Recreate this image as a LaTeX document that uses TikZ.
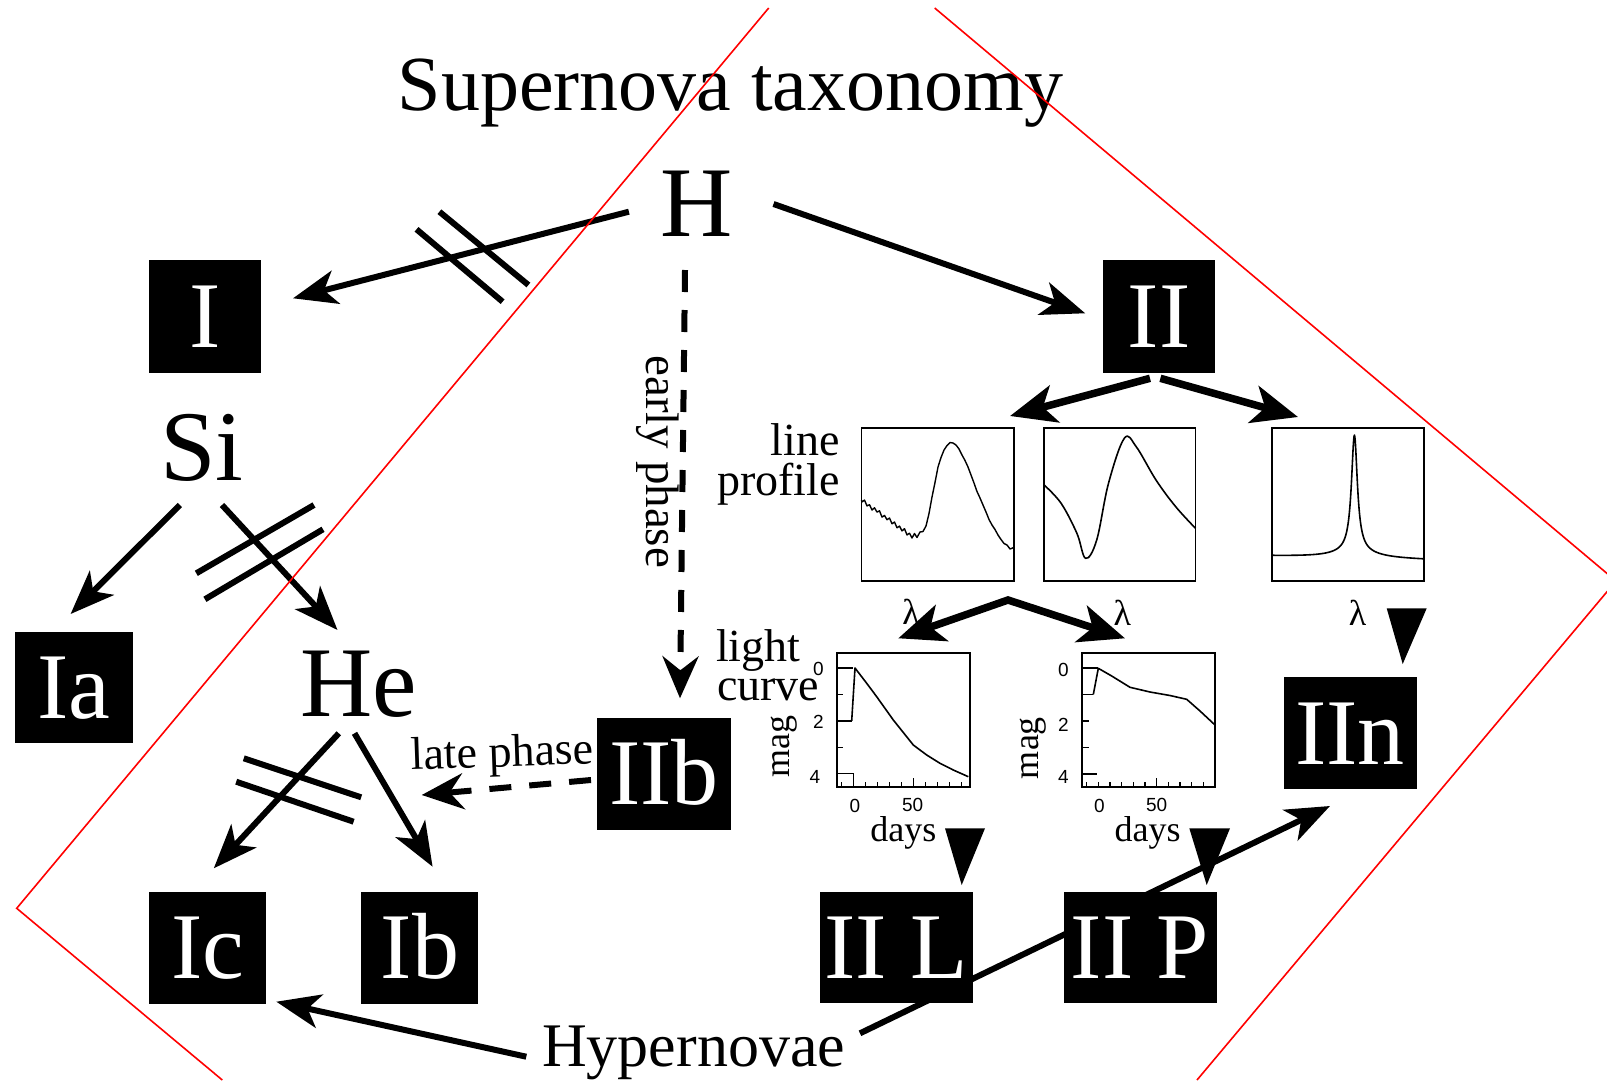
\documentclass[tikz,border=0pt]{standalone}
\usepackage{fontspec}
\setmainfont{Liberation Serif}
\newfontfamily\ticksans{Liberation Sans}
\usetikzlibrary{arrows.meta}
\newcommand\fsz[1]{\fontsize{#1}{#1}\selectfont}
\begin{document}
\begin{tikzpicture}[x=1pt,y=-1pt,
  sbox/.style={fill=black,text=white,inner sep=0pt,minimum height=112pt,font=\fsz{94},text height=62pt,text depth=0pt},
  tx/.style={inner sep=0pt,anchor=base},
  arr/.style={line width=6pt,-{Stealth[length=44pt,width=34pt,inset=12pt]}},
  arrb/.style={line width=7.5pt,-{Stealth[length=46pt,width=38pt,inset=12pt]}},
  darr/.style={line width=6pt,dash pattern=on 22pt off 18pt,-{Stealth[length=42pt,width=36pt,inset=14pt]}},
  slashln/.style={line width=6pt},
  plotframe/.style={draw,line width=1.8pt,inner sep=0pt},
  crv/.style={line width=1.6pt,line join=round},
  tk/.style={line width=1.4pt},
  redln/.style={draw=red,line width=1.6pt},
  ticklab/.style={font=\ticksans\fsz{19},inner sep=0pt}
]
\path[use as bounding box] (0,0) rectangle (1607,1080);
\clip (0,0) rectangle (1607,1080);

% connector end points
\coordinate (HtoIs) at (628.9,211.7);   \coordinate (HtoIe) at (293,298.3);
\coordinate (HtoIIs) at (773.5,204);    \coordinate (HtoIIe) at (1085.2,313.3);
\coordinate (HtoIIbs) at (685,270);     \coordinate (HtoIIbe) at (680,698.3);
\coordinate (IIbtoHes) at (591,780);    \coordinate (IIbtoHee) at (421.7,795);
\coordinate (SitoIas) at (179.8,505);   \coordinate (SitoIae) at (70.6,614);
\coordinate (SitoHes) at (222,505);     \coordinate (SitoHee) at (337.5,630);
\coordinate (HetoIcs) at (338.8,733.3); \coordinate (HetoIce) at (213.8,868.3);
\coordinate (HetoIbs) at (354.5,733.3); \coordinate (HetoIbe) at (432.6,866.7);
\coordinate (IItoPAs) at (1150,378.3);  \coordinate (IItoPAe) at (1010,416);
\coordinate (IItoPCs) at (1160.4,378.3);\coordinate (IItoPCe) at (1298,417);
\coordinate (apex) at (1008,600);
\coordinate (toLA) at (898.3,638.3);    \coordinate (toLB) at (1125,638.3);
\coordinate (HyptoIcs) at (526.3,1056.7); \coordinate (HyptoIce) at (276.3,1001.7);
\coordinate (HyptoIIns) at (860,1033.3);  \coordinate (HyptoIIne) at (1330,806);

% line under the boxes
\draw[arr] (HyptoIIns) -- (HyptoIIne);

% title and element labels
\node[tx,font=\fsz{78}] (title) at (730.5,110) {Supernova taxonomy};
\node[tx,font=\fsz{100}] (H) at (697,236) {H};
\node[tx,font=\fsz{100}] (Si) at (201.7,480) {Si};
\node[tx,font=\fsz{100}] (He) at (359,716.7) {He};
\node[tx,font=\fsz{62},anchor=base west] (Hyp) at (542,1066.7) {Hypernovae};

% type boxes
\node[sbox,minimum width=112pt,minimum height=113pt] (I) at (205,316) {I};
\node[sbox,minimum width=112pt,minimum height=113pt] (II) at (1159,316) {II};
\node[sbox,minimum width=118pt,minimum height=111pt] (Ia) at (73.7,687.2) {Ia};
\node[sbox,minimum width=134pt] (IIb) at (663.8,773.5) {IIb};
\node[sbox,minimum width=133pt] (IIn) at (1350,733.3) {IIn};
\node[sbox,minimum width=117pt] (Ic) at (207.8,947.5) {Ic};
\node[sbox,minimum width=117pt] (Ib) at (419.9,947.5) {Ib};
\node[sbox,minimum width=153pt,minimum height=111pt] (IIL) at (896,947.2) {II L};
\node[sbox,minimum width=153pt,minimum height=111pt] (IIP) at (1140,947.2) {II P};

% arrows
\draw[arr] (HtoIs) -- (HtoIe);
\draw[arr] (HtoIIs) -- (HtoIIe);
\draw[darr] (HtoIIbs) -- (HtoIIbe);
\draw[darr] (IIbtoHes) -- (IIbtoHee);
\draw[arr] (SitoIas) -- (SitoIae);
\draw[arr] (SitoHes) -- (SitoHee);
\draw[arr] (HetoIcs) -- (HetoIce);
\draw[arr] (HetoIbs) -- (HetoIbe);
\draw[arrb] (IItoPAs) -- (IItoPAe);
\draw[arrb] (IItoPCs) -- (IItoPCe);
\draw[line width=7.5pt,{Stealth[length=46pt,width=38pt,inset=12pt]}-{Stealth[length=46pt,width=38pt,inset=12pt]}] (toLA) -- (apex) -- (toLB);
\draw[arr] (HyptoIcs) -- (HyptoIce);

% forbidden-transition slashes
\draw[slashln] (416.5,229.3) -- (502.6,301.7);
\draw[slashln] (439.4,211.7) -- (528.4,285);
\draw[slashln] (196.3,573.3) -- (314,505);
\draw[slashln] (204.9,599.3) -- (323,529.3);
\draw[slashln] (243.75,758.3) -- (361.2,797.3);
\draw[slashln] (236.2,781.7) -- (353.6,821.7);

% triangle pointers
\fill (945,828.3) -- (985,828.3) -- (961.7,885) -- cycle;
\fill (1189.3,828.3) -- (1230,828.3) -- (1206.7,885) -- cycle;
\fill (1386.7,608.3) -- (1426.7,608.3) -- (1402.7,664) -- cycle;

% labels
\node[tx,font=\fsz{46},anchor=base east] (line) at (840,455) {line};
\node[tx,font=\fsz{46},anchor=base east] (profile) at (840,495) {profile};
\node[tx,font=\fsz{46},anchor=base west] (light) at (716,661) {light};
\node[tx,font=\fsz{46},anchor=base west] (curve) at (717,700) {curve};
\node[tx,font=\fsz{47},rotate=-90] (early) at (646.7,461.7) {early phase};
\node[tx,font=\fsz{46},rotate=2] (late) at (502.5,766.7) {late phase};

% line profile plots
\node[plotframe,minimum width=152.2pt,minimum height=152.4pt] (PA) at (937.6,504.5) {};
\node[plotframe,minimum width=151.4pt,minimum height=152.4pt] (PB) at (1119.8,504.5) {};
\node[plotframe,minimum width=151.8pt,minimum height=152.4pt] (PC) at (1347.7,504.5) {};
\draw[crv,line width=1.4pt] (861.5,500) -- (862,501.9) -- (864.5,500.1) -- (867,505.9) -- (869.5,504.7) -- (872,510) -- (874.5,507.8) -- (877,512.1) -- (879.5,510.8) -- (882,517.1) -- (884.5,515.4) -- (887,519.7) -- (889.5,518) -- (892,523.8) -- (894.5,522) -- (897,527.8) -- (899.5,526.1) -- (902,530.9) -- (904.5,528.7) -- (907,534.9) -- (909.5,533.2) -- (912,538) -- (914.5,533.5) -- (917,537.5) -- (920,532) -- (923,531.5) -- (926,526) -- (929,513.5) -- (932,497) -- (935,482.5) -- (938,467) -- (941,457.5) -- (944,450) -- (947,445.5) -- (950,442.5) -- (953,443) -- (956,445) -- (959,449) -- (962,455) -- (965,460.5) -- (968,467) -- (971,475) -- (974,483) -- (977,491.5) -- (980,498) -- (983,505) -- (986,512) -- (989,519.5) -- (992,525) -- (995,529.5) -- (998,535) -- (1001,539.5) -- (1004,543.5) -- (1007,545) -- (1010,549) -- (1013.7,547.5);
\draw[crv] plot[smooth,tension=0.6] coordinates {(1044.1,485) (1061.1,503.3) (1076.9,533.3) (1085.6,558.3) (1096.7,540) (1108.5,483.3) (1124.3,438.3) (1136.2,446.7) (1156,480) (1175.7,506.7) (1195.5,528.3)};
\draw[crv] plot[domain=1272:1423.6,samples=400,variable=\t] (\t,{556+0.025*(\t-1272)-117/(1+((\t-1354.4)/3.6)^2)-6/(1+((\t-1354.4)/25)^2)});
\node[font=\fsz{36},inner sep=0pt] (lamA) at (911,611.7) {λ};
\node[font=\fsz{36},inner sep=0pt] (lamB) at (1122.4,613.3) {λ};
\node[font=\fsz{36},inner sep=0pt] (lamC) at (1357.5,613.3) {λ};

% light curve plots
\node[plotframe,minimum width=133.3pt,minimum height=133.4pt] (LA) at (903.35,720) {};
\node[plotframe,minimum width=133.3pt,minimum height=133.4pt] (LB) at (1148.35,720) {};
% L1
\draw[tk] (836.7,668) -- (853,668);
\draw[tk] (836.7,694.4) -- (843,694.4);
\draw[tk] (836.7,720.8) -- (851.7,720.8);
\draw[tk] (836.7,747.2) -- (843,747.2);
\draw[tk] (836.7,773.6) -- (853.3,773.6) -- (853.3,786.7);
\foreach \d in {-10,10,20,30,40,60,70,80,90} \draw[tk] ({853.3+1.2*\d},786.7) -- ++(0,-5);
\draw[tk] (913.3,786.7) -- ++(0,-9);
\draw[crv] (851.7,720.8) -- (855,668) -- (866.7,683.3) -- (876.7,696.7) -- (893.3,720) -- (913.3,745) -- (926.7,755) -- (940,763.3) -- (953.3,770) -- (968.3,776.7);
% L2
\draw[tk] (1081.7,668) -- (1098.3,668);
\draw[tk] (1081.7,694.5) -- (1093.3,694.5);
\draw[tk] (1081.7,721) -- (1088.5,721);
\draw[tk] (1081.7,747.5) -- (1088.5,747.5);
\draw[tk] (1081.7,774) -- (1096.7,774);
\foreach \d in {-10,0,10,20,30,40,60,70,80,90} \draw[tk] ({1098.3+1.167*\d},786.7) -- ++(0,-5);
\draw[tk] (1156.7,786.7) -- ++(0,-9);
\draw[crv] (1093.3,694.5) -- (1098.3,668.3) -- (1111.7,676) -- (1130,687.3) -- (1150,692) -- (1170,695.5) -- (1186.7,699.3) -- (1200,711) -- (1215,725);

% axis labels
\node[ticklab] (ya0) at (818.3,669) {0};
\node[ticklab] (ya2) at (818.3,721.7) {2};
\node[ticklab] (ya4) at (815,776.7) {4};
\node[ticklab] (yb0) at (1063.3,670) {0};
\node[ticklab] (yb2) at (1063.3,725) {2};
\node[ticklab] (yb4) at (1063.3,776.7) {4};
\node[ticklab] (xa0) at (855,806) {0};
\node[ticklab] (xa50) at (912.7,805) {50};
\node[ticklab] (xb0) at (1099.3,806) {0};
\node[ticklab] (xb50) at (1156.7,805) {50};
\node[tx,font=\fsz{36},rotate=90] (magA) at (789,746.7) {mag};
\node[tx,font=\fsz{36},rotate=90] (magB) at (1038,748) {mag};
\node[tx,font=\fsz{36}] (daysA) at (903.3,841) {days};
\node[tx,font=\fsz{36}] (daysB) at (1147.5,841) {days};

% red guide lines
\draw[redln] (768.7,8) -- (16.7,908.3) -- (222.3,1080);
\draw[redln] (934.7,8) -- (1616,581) -- (1197,1080);
\end{tikzpicture}
\end{document}
